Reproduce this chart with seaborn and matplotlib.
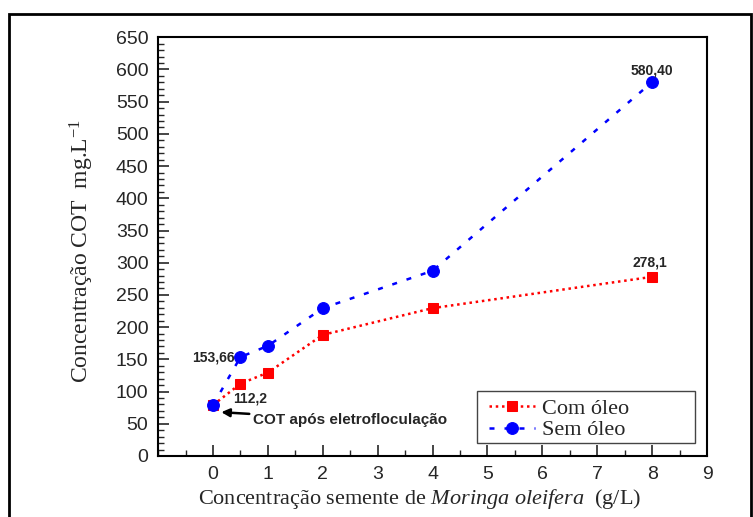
import matplotlib
matplotlib.use("Agg")
import matplotlib.pyplot as plt
import seaborn as sns
import pandas as pd
from matplotlib.ticker import MultipleLocator
from matplotlib.patches import Rectangle

sns.set_style("ticks")
plt.rcParams['font.family'] = ['Liberation Sans', 'DejaVu Sans']
plt.rcParams['mathtext.fontset'] = 'custom'
plt.rcParams['mathtext.it'] = 'Liberation Serif:italic'
plt.rcParams['mathtext.rm'] = 'Liberation Serif'

x_vals = [0, 0.5, 1, 2, 4, 8]
com_oleo = [79, 112.2, 129.5, 188, 229.5, 278.1]
sem_oleo = [79, 153.66, 171, 229.5, 287.5, 580.40]
x_ticks = [0, 1, 2, 3, 4, 5, 6, 7, 8, 9]
y_ticks = list(range(0, 651, 50))

df = pd.DataFrame({"x": x_vals + x_vals,
                   "y": com_oleo + sem_oleo,
                   "serie": ["Com óleo"] * 6 + ["Sem óleo"] * 6})

fig = plt.figure(figsize=(7.53, 5.17), dpi=100)
ax = fig.add_axes([0.21, 0.118, 0.729, 0.81])

sns.lineplot(data=df[df.serie == "Com óleo"], x="x", y="y", ax=ax, color="#ff0000",
             marker="s", markersize=7.5, markeredgecolor="#ff0000", linestyle=(0, (1, 1.5)),
             linewidth=1.8, label="Com óleo")
sns.lineplot(data=df[df.serie == "Sem óleo"], x="x", y="y", ax=ax, color="#0000ff",
             marker="o", markersize=8.5, markeredgecolor="#0000ff", linestyle=(0, (2, 4)),
             linewidth=1.8, label="Sem óleo")

ax.set_xlim(-1, 9)
ax.set_ylim(0, 650)
ax.set_xticks(x_ticks)
ax.set_yticks(y_ticks)
ax.xaxis.set_minor_locator(MultipleLocator(0.5))
ax.yaxis.set_minor_locator(MultipleLocator(10))
ax.tick_params(which="major", direction="in", length=8, width=1.2, labelsize=14, pad=7)
ax.tick_params(which="minor", direction="in", length=4, width=1)
for s in ax.spines.values():
    s.set_linewidth(1.5)
    s.set_color("black")

ax.set_xlabel("Concentração semente de $\\mathit{Moringa\\ oleifera}$  (g/L)",
              family="Liberation Serif", fontsize=16)
ax.xaxis.set_label_coords(0.477, -0.073)
ax.set_ylabel("Concentração COT  mg.L$^{\\mathregular{-1}}$", family="Liberation Serif",
              fontsize=17)
ax.yaxis.set_label_coords(-0.113, 0.49)

leg = ax.legend(loc="lower left", bbox_to_anchor=(0.574, 0.0), frameon=False,
                prop={"family": "Liberation Serif", "size": 16}, handlelength=2.1,
                borderpad=0.2, labelspacing=0.05, handletextpad=0.3)
ax.add_patch(Rectangle((0.581, 0.031), 0.978 - 0.581, 0.155 - 0.031, transform=ax.transAxes,
                       fill=False, edgecolor="#444444", linewidth=1.0, zorder=5))

bold = dict(fontsize=10, fontweight="bold")
ax.text(0.4, 153, "153,66", ha="right", va="center", **bold)
ax.text(0.67, 90, "112,2", ha="center", va="center", **bold)
ax.text(8.0, 598, "580,40", ha="center", va="center", **bold)
ax.text(7.95, 300, "278,1", ha="center", va="center", **bold)
ax.annotate("COT após eletrofloculação", xy=(0.15, 68), xytext=(0.72, 56),
            ha="left", va="center", fontsize=11, fontweight="bold",
            arrowprops=dict(arrowstyle="-|>", color="black", lw=1.8,
                            shrinkA=28, shrinkB=0, mutation_scale=12))

fig.patches.append(Rectangle((9 / 753, -0.1), (751 - 9) / 753, 1.1 - 14 / 517,
                             transform=fig.transFigure, fill=False, edgecolor="black",
                             linewidth=2))
fig.savefig("out.png", dpi=100)
